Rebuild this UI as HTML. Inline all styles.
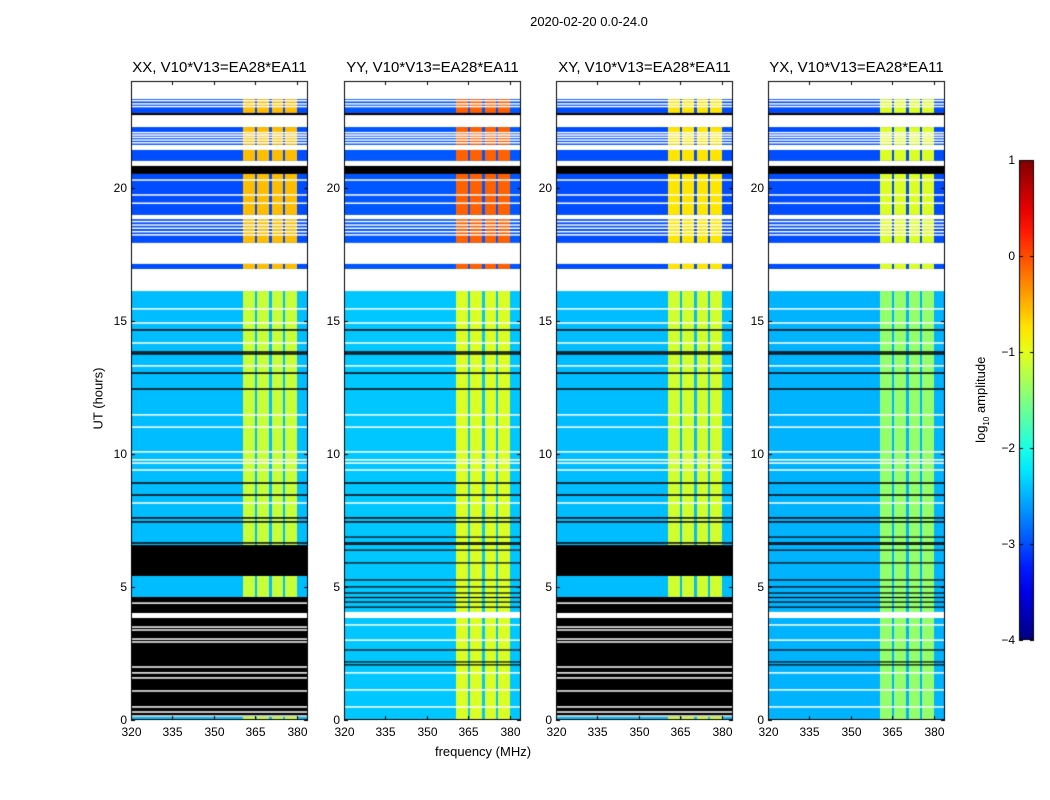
<!DOCTYPE html>
<html><head><meta charset="utf-8">
<style>
body{margin:0;background:#fff;font-family:"Liberation Sans",sans-serif;}
#root{position:relative;width:1050px;height:800px;overflow:hidden;background:#fff;}
.t{position:absolute;white-space:nowrap;color:#000;}
canvas{position:absolute;}
</style></head>
<body>
<div id="root">
<div class="t" style="left:489px;top:14px;width:200px;text-align:center;font-size:13px;">2020-02-20 0.0-24.0</div>
<div class="t" style="left:383px;top:744px;width:200px;text-align:center;font-size:13px;">frequency (MHz)</div>
<div class="t" style="left:48px;top:391px;width:100px;text-align:center;font-size:13px;transform:rotate(-90deg);">UT (hours)</div>
<div class="t" style="left:932px;top:391px;width:100px;text-align:center;font-size:13px;transform:rotate(-90deg);">log<sub style="font-size:8px">10</sub> amplitude</div>
<canvas id="cv" width="1050" height="800" style="left:0;top:0"></canvas>
</div>
<script>
// ---- data (hours UT, log10 amplitude) ----
const panelTitles = ["XX, V10*V13=EA28*EA11","YY, V10*V13=EA28*EA11","XY, V10*V13=EA28*EA11","YX, V10*V13=EA28*EA11"];
const panelLefts = [131,344,556,768];
const xTicks = [320,335,350,365,380];
const yTicks = [0,5,10,15,20];
const cbTicks = [1,0,-1,-2,-3,-4];
// data segments [startHour, endHour, section] ; section 0 = upper, 1 = lower
const dataSegs = [[22.80,23.32,0],[21.60,22.27,0],[21.0,21.41,0],[18.97,20.51,0],[17.92,18.85,0],[16.94,17.13,0],[0,16.11,1]];
const blackSegs = [[20.51,20.81],[22.72,22.80]];
// background level per panel for sections [upper, lower]
const bgLevel = [[-3.0,-2.45],[-2.95,-2.4],[-3.0,-2.45],[-3.0,-2.5]];
// bright band level per panel [upper, lower]
const bandLevel = [[-0.55,-1.15],[-0.1,-1.05],[-0.75,-1.1],[-1.05,-1.4]];
const bandCols = [[360.6,364.8],[365.7,370.0],[370.9,375.1],[375.7,379.9]];
const whiteLines = [23.26,23.14,23.04,22.06,21.97,21.88,21.78,21.68,20.28,19.72,19.41,18.84,18.72,18.59,18.47,18.34,18.22,15.44,14.91,14.16,13.30,11.46,11.0,10.07,9.77,9.65,9.39,8.15];
const blackLines = [14.65,13.82,13.75,13.03,12.43,8.90,8.45,7.59,7.44,6.65];
// flagged (black) blocks for XX and XY only
const flagPanels = [true,false,true,false];
const flagSegs = [[5.41,6.57],[0.12,4.62]];
const flagWhiteLines = [4.39,3.49,3.38,3.04,2.93,1.99,1.77,1.58,1.09,0.49,0.30,0.15];
const flagWhiteBlock = [3.83,4.02];
const openWhiteLines = [3.57,3.0,1.77,1.13,0.49];
const openWhiteBlock = [3.83,4.06];
const openBlackLines = [6.87,6.6,6.38,5.9,5.26,5.0,4.77,4.6,4.43,4.24,2.63,2.18,2.07];

const W=177,H=639,TOP=81,F0=320,F1=384,VMIN=-4,VMAX=1;
const cv=document.getElementById('cv'),c=cv.getContext('2d');
function jet(v){let t=(v-VMIN)/(VMAX-VMIN);t=Math.max(0,Math.min(1,t));
 const cl=x=>Math.round(255*Math.max(0,Math.min(1,x)));
 return `rgb(${cl(1.5-Math.abs(4*t-3))},${cl(1.5-Math.abs(4*t-2))},${cl(1.5-Math.abs(4*t-1))})`;}
function xs(L,f){return L+(f-F0)/(F1-F0)*W;}
function ys(h){return TOP+(24-h)/24*H;}
function hband(L,h0,h1,col){c.fillStyle=col;const y0=ys(h1),y1=ys(h0);c.fillRect(L,y0,W,Math.max(1,y1-y0));}
function hline(L,h,col,th){c.fillStyle=col;c.fillRect(L,ys(h)-th/2,W,th);}
const root=document.getElementById('root');
function label(txt,x,y,w,align,name,fs){const d=document.createElement('div');d.className='t';
 
 
 d.style.left=x+'px';d.style.top=y+'px';d.style.width=w+'px';d.style.textAlign=align;d.style.fontSize=(fs||13)+'px';d.textContent=txt;root.appendChild(d);}
panelLefts.forEach((L,p)=>{
 c.fillStyle='#fff';c.fillRect(L,TOP,W,H);
 dataSegs.forEach(s=>{
  hband(L,s[0],s[1],jet(bgLevel[p][s[2]]));
  bandCols.forEach(b=>{c.fillStyle=jet(bandLevel[p][s[2]]);const y0=ys(s[1]),y1=ys(s[0]);
   c.fillRect(Math.round(xs(L,b[0])),y0,Math.round(xs(L,b[1]))-Math.round(xs(L,b[0])),y1-y0);});
 });
 blackSegs.forEach(s=>hband(L,s[0],s[1],'#000'));
 whiteLines.forEach(h=>hline(L,h,'#fff',1.5));
 blackLines.forEach(h=>hline(L,h,'#000',1.5));
 if(flagPanels[p]){flagSegs.forEach(s=>hband(L,s[0],s[1],'#000'));
  flagWhiteLines.forEach(h=>hline(L,h,'#fff',1.5));hband(L,flagWhiteBlock[0],flagWhiteBlock[1],'#fff');}
 else{openWhiteLines.forEach(h=>hline(L,h,'#fff',1.5));hband(L,openWhiteBlock[0],openWhiteBlock[1],'#fff');
  openBlackLines.forEach(h=>hline(L,h,'#000',1.2));}
 c.strokeStyle='#000';c.lineWidth=1;c.strokeRect(L+0.5,TOP+0.5,W-1,H-1);
 c.beginPath();
 xTicks.forEach(f=>{const x=Math.round(xs(L,f))+0.5;c.moveTo(x,TOP);c.lineTo(x,TOP+4);c.moveTo(x,TOP+H);c.lineTo(x,TOP+H-4);
  label(String(f),x-20,TOP+H+5,40,'center','x-tick-label',12);});
 yTicks.forEach(h=>{const y=Math.round(ys(h))+0.5;c.moveTo(L,y);c.lineTo(L+4,y);c.moveTo(L+W,y);c.lineTo(L+W-4,y);
  label(String(h),L-44,y-8,40,'right','y-tick-label',12);});
 c.stroke();
 label(panelTitles[p],L-30,TOP-22,W+60,'center','panel-title',15);
});
// colorbar
const CX=1019,CW=15,CT=160,CH=480;
const g=c.createLinearGradient(0,CT+CH,0,CT);
for(let i=0;i<=20;i++){g.addColorStop(i/20,jet(VMIN+(VMAX-VMIN)*i/20));}
c.fillStyle=g;c.fillRect(CX,CT,CW,CH);
c.strokeStyle='#000';c.strokeRect(CX+0.5,CT+0.5,CW-1,CH-1);
c.beginPath();
cbTicks.forEach(v=>{const y=Math.round(CT+(VMAX-v)/(VMAX-VMIN)*CH)+0.5;c.moveTo(CX,y);c.lineTo(CX+4,y);c.moveTo(CX+CW,y);c.lineTo(CX+CW-4,y);
 label(v<0?'\u2212'+(-v):String(v),CX-44,y-8,40,'right','colorbar-tick-label',12);});
c.stroke();
</script>
</body></html>
